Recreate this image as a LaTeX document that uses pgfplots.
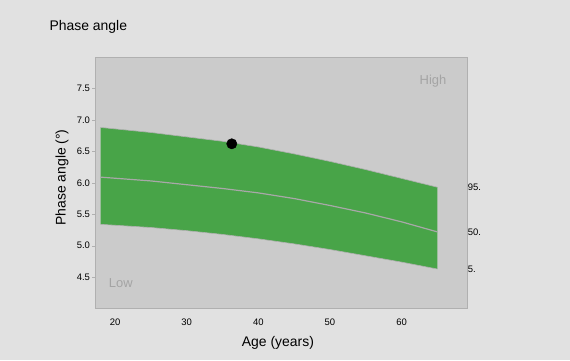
\documentclass[border=0pt]{standalone}
\usepackage{pgfplots}
\pgfplotsset{compat=1.18}
\usepackage{fontspec}
\setmainfont{Liberation Sans}
\definecolor{bg}{HTML}{E1E1E1}
\definecolor{plotbg}{HTML}{CBCBCB}
\definecolor{band}{HTML}{48A448}
\definecolor{frame}{HTML}{B0B0B0}
\definecolor{medline}{HTML}{A8A8A8}
\definecolor{lowhigh}{HTML}{A4A4A4}
\begin{document}
\begin{tikzpicture}[x=1bp,y=1bp]
\fill[bg] (0,0) rectangle (570,360);
\node[anchor=west, font=\fontsize{14}{16}\selectfont] at (46,333) {Phase angle};
\begin{axis}[
  at={(95bp,52bp)}, anchor=south west,
  scale only axis, width=371.7bp, height=251bp,
  xmin=17.2, xmax=69.1, ymin=4.01, ymax=8.0,
  clip=false,
  axis background/.style={fill=plotbg},
  axis line style={draw=frame},
  xtick={20,30,40,50,60},
  ytick={4.5,5.0,5.5,6.0,6.5,7.0,7.5},
  ytick pos=left, xtick pos=bottom,
  x tick style={draw=none},
  y tick style={draw=frame},
  tick align=outside, major tick length=3bp,
  yticklabel style={/pgf/number format/fixed, /pgf/number format/fixed zerofill, /pgf/number format/precision=1, xshift=1.5bp},
  xticklabel style={yshift=-4bp},
  tick label style={font=\fontsize{9.5}{11}\selectfont},
  /pgf/number format/assume math mode=true,
  xlabel={Age (years)},
  ylabel={Phase angle (°)},
  label style={font=\fontsize{14}{16}\selectfont},
  xlabel style={at={(axis description cs:0.492,-0.139)}, anchor=center},
  ylabel style={at={(axis description cs:-0.089,0.52)}, anchor=center},
]
% band: upper boundary then lower boundary reversed
\addplot[fill=band, draw=none] coordinates {
 (18,6.88) (25,6.80) (30,6.73) (35,6.66) (40,6.57) (45,6.46) (50,6.34) (55,6.21) (60,6.07) (65,5.93)
 (65,4.63) (60,4.74) (55,4.84) (50,4.94) (45,5.03) (40,5.11) (35,5.18) (30,5.24) (25,5.29) (18,5.34)} -- cycle;
\addplot[draw=frame, line width=0.6bp] coordinates {
 (18,6.88) (25,6.80) (30,6.73) (35,6.66) (40,6.57) (45,6.46) (50,6.34) (55,6.21) (60,6.07) (65,5.93)};
\addplot[draw=frame, line width=0.6bp] coordinates {
 (18,5.34) (25,5.29) (30,5.24) (35,5.18) (40,5.11) (45,5.03) (50,4.94) (55,4.84) (60,4.74) (65,4.63)};
\addplot[medline, line width=1.2bp] coordinates {
 (18,6.09) (25,6.03) (30,5.97) (35,5.91) (40,5.84) (45,5.75) (50,5.64) (55,5.52) (60,5.38) (65,5.22)};
\addplot[only marks, mark=*, mark size=5.2pt, black] coordinates {(36.3,6.62)};
\node[anchor=west, font=\fontsize{9.5}{11}\selectfont, inner sep=1bp] at (axis cs:69.1,5.93) {95.};
\node[anchor=west, font=\fontsize{9.5}{11}\selectfont, inner sep=1bp] at (axis cs:69.1,5.22) {50.};
\node[anchor=west, font=\fontsize{9.5}{11}\selectfont, inner sep=1bp] at (axis cs:69.1,4.63) {5.};
\node[lowhigh, font=\fontsize{13}{15}\selectfont] at (axis cs:64.4,7.62) {High};
\node[lowhigh, font=\fontsize{13}{15}\selectfont] at (axis cs:20.8,4.41) {Low};
\end{axis}
\end{tikzpicture}
\end{document}
